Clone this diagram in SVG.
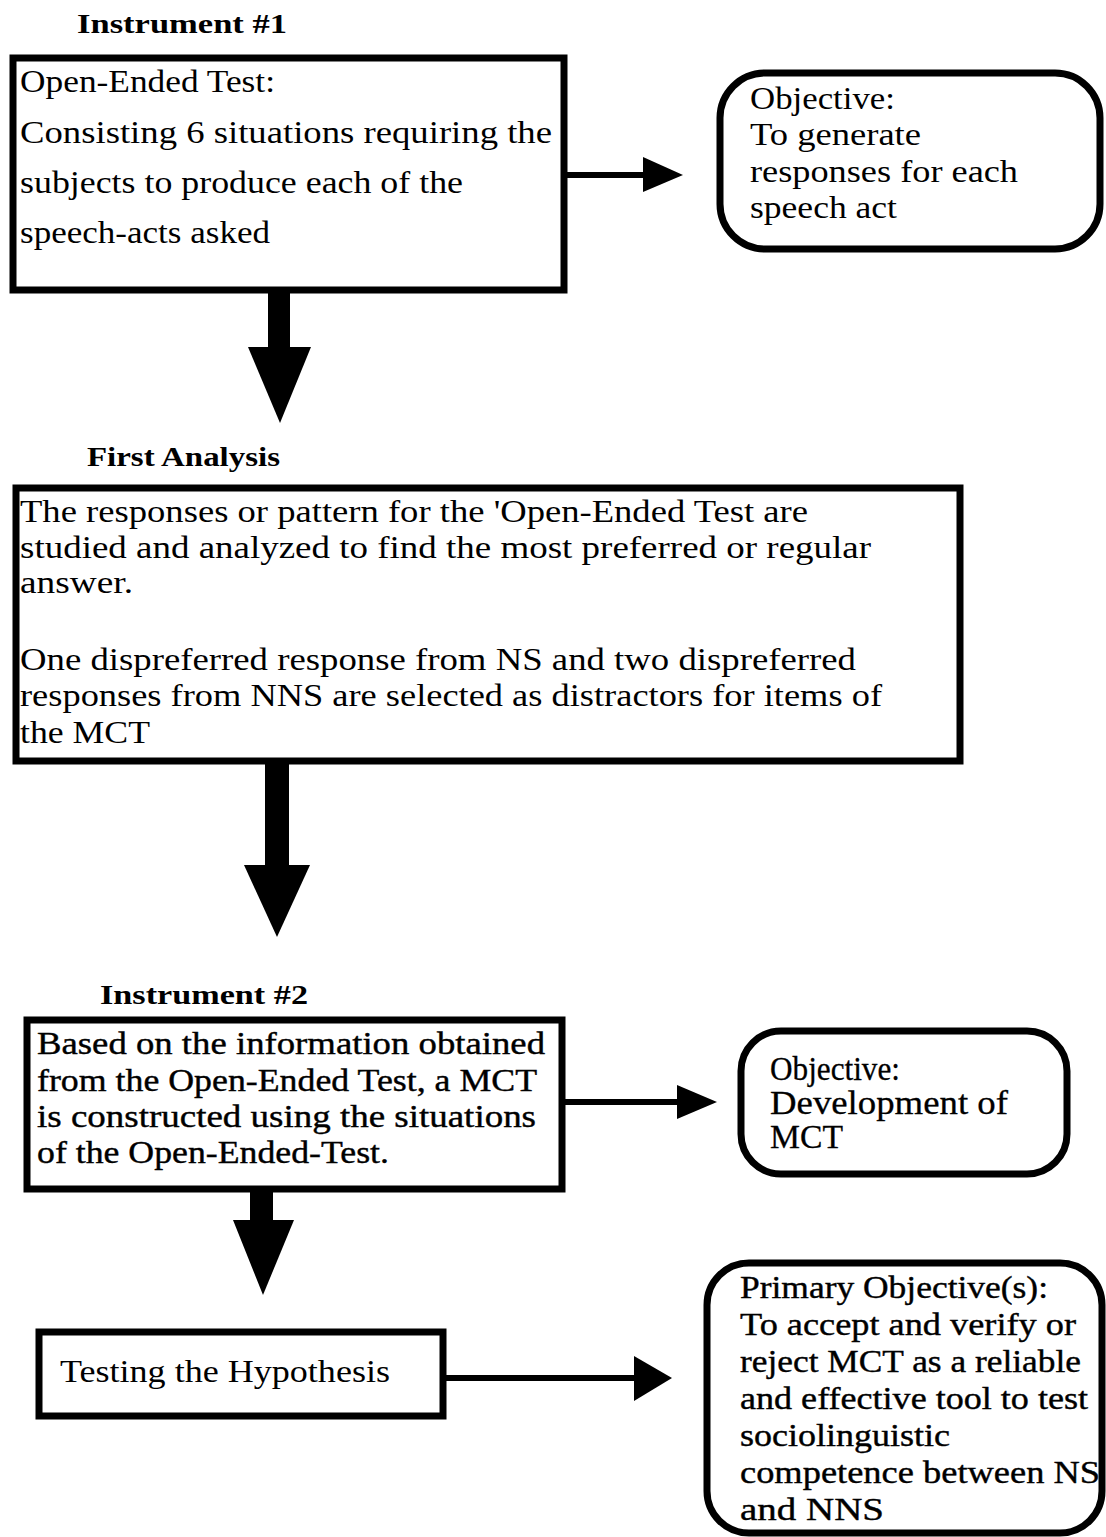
<svg xmlns="http://www.w3.org/2000/svg" width="1106" height="1537" viewBox="0 0 1106 1537">
<style>
.box{fill:#fff;stroke:#000;stroke-width:7}
.rbox{fill:#fff;stroke:#000;stroke-width:7}
text{font-family:"Liberation Serif",serif;fill:#000}
.t{font-size:31px}
.c{font-size:31px}
.m{font-size:32px;stroke:#000;stroke-width:0.4}
.o2{font-size:34px;stroke:#000;stroke-width:0.3}
.h{font-size:28px;font-weight:bold}
.ln{stroke:#000;stroke-width:6;fill:none}
.hd{fill:#000}
</style>
<rect width="1106" height="1537" fill="#fff"/>
<g id="connectors">
<rect class="hd" x="268" y="290" width="22" height="60"/>
<polygon class="hd" points="248,347 311,347 280,423"/>
<line class="ln" x1="565" y1="175" x2="650" y2="175"/>
<polygon class="hd" points="643,157 683,175 643,192"/>
<rect class="hd" x="265" y="762" width="24" height="106"/>
<polygon class="hd" points="244,865 310,865 277,937"/>
<line class="ln" x1="563" y1="1102" x2="685" y2="1102"/>
<polygon class="hd" points="677,1085 717,1102 677,1119"/>
<rect class="hd" x="250" y="1190" width="23" height="32"/>
<polygon class="hd" points="233,1220 294,1220 263,1295"/>
<line class="ln" x1="445" y1="1378" x2="640" y2="1378"/>
<polygon class="hd" points="634,1356 672,1378 634,1401"/>
</g>
<g id="instrument1">
<text class="h" x="77" y="33" textLength="210" lengthAdjust="spacingAndGlyphs">Instrument #1</text>
<rect class="box" x="13" y="58" width="551" height="232"/>
<text class="t" x="20" y="92" textLength="255" lengthAdjust="spacingAndGlyphs">Open-Ended Test:</text>
<text class="t" x="20" y="143" textLength="532" lengthAdjust="spacingAndGlyphs">Consisting 6 situations requiring the</text>
<text class="t" x="20" y="193" textLength="443" lengthAdjust="spacingAndGlyphs">subjects to produce each of the</text>
<text class="t" x="20" y="243" textLength="250" lengthAdjust="spacingAndGlyphs">speech-acts asked</text>
</g>
<g id="objective1">
<rect class="rbox" x="720" y="73" width="380" height="176" rx="45"/>
<text class="t" x="750" y="109" textLength="145" lengthAdjust="spacingAndGlyphs">Objective:</text>
<text class="t" x="750" y="145" textLength="171" lengthAdjust="spacingAndGlyphs">To generate</text>
<text class="t" x="750" y="182" textLength="268" lengthAdjust="spacingAndGlyphs">responses for each</text>
<text class="t" x="750" y="218" textLength="147" lengthAdjust="spacingAndGlyphs">speech act</text>
</g>
<g id="firstanalysis">
<text class="h" x="87" y="466" textLength="193" lengthAdjust="spacingAndGlyphs">First Analysis</text>
<rect class="box" x="16" y="488" width="944" height="273"/>
<text class="c" x="20" y="522" textLength="788" lengthAdjust="spacingAndGlyphs">The responses or pattern for the 'Open-Ended Test are</text>
<text class="c" x="20" y="558" textLength="851" lengthAdjust="spacingAndGlyphs">studied and analyzed to find the most preferred or regular</text>
<text class="c" x="20" y="593" textLength="113" lengthAdjust="spacingAndGlyphs">answer.</text>
<text class="c" x="20" y="670" textLength="836" lengthAdjust="spacingAndGlyphs">One dispreferred response from NS and two dispreferred</text>
<text class="c" x="20" y="706" textLength="862" lengthAdjust="spacingAndGlyphs">responses from NNS are selected as distractors for items of</text>
<text class="c" x="20" y="743" textLength="130" lengthAdjust="spacingAndGlyphs">the MCT</text>
</g>
<g id="instrument2">
<text class="h" x="100" y="1004" textLength="208" lengthAdjust="spacingAndGlyphs">Instrument #2</text>
<rect class="box" x="27" y="1020" width="535" height="169"/>
<text class="m" x="37" y="1054" textLength="508" lengthAdjust="spacingAndGlyphs">Based on the information obtained</text>
<text class="m" x="37" y="1091" textLength="500" lengthAdjust="spacingAndGlyphs">from the Open-Ended Test, a MCT</text>
<text class="m" x="37" y="1127" textLength="499" lengthAdjust="spacingAndGlyphs">is constructed using the situations</text>
<text class="m" x="37" y="1163" textLength="352" lengthAdjust="spacingAndGlyphs">of the Open-Ended-Test.</text>
</g>
<g id="objective2">
<rect class="rbox" x="741" y="1031" width="326" height="143" rx="40"/>
<text class="o2" x="770" y="1080" textLength="130" lengthAdjust="spacingAndGlyphs">Objective:</text>
<text class="o2" x="770" y="1114" textLength="238" lengthAdjust="spacingAndGlyphs">Development of</text>
<text class="o2" x="770" y="1148" textLength="73" lengthAdjust="spacingAndGlyphs">MCT</text>
</g>
<g id="testing">
<rect class="box" x="39" y="1332" width="404" height="84"/>
<text class="t" x="60" y="1382" textLength="330" lengthAdjust="spacingAndGlyphs">Testing the Hypothesis</text>
</g>
<g id="primary">
<rect class="rbox" x="707" y="1263" width="395" height="270" rx="42"/>
<text class="m" x="740" y="1298" textLength="308" lengthAdjust="spacingAndGlyphs">Primary Objective(s):</text>
<text class="m" x="740" y="1335" textLength="336" lengthAdjust="spacingAndGlyphs">To accept and verify or</text>
<text class="m" x="740" y="1372" textLength="341" lengthAdjust="spacingAndGlyphs">reject MCT as a reliable</text>
<text class="m" x="740" y="1409" textLength="348" lengthAdjust="spacingAndGlyphs">and effective tool to test</text>
<text class="m" x="740" y="1446" textLength="210" lengthAdjust="spacingAndGlyphs">sociolinguistic</text>
<text class="m" x="740" y="1483" textLength="360" lengthAdjust="spacingAndGlyphs">competence between NS</text>
<text class="m" x="740" y="1520" textLength="144" lengthAdjust="spacingAndGlyphs">and NNS</text>
</g>
</svg>
